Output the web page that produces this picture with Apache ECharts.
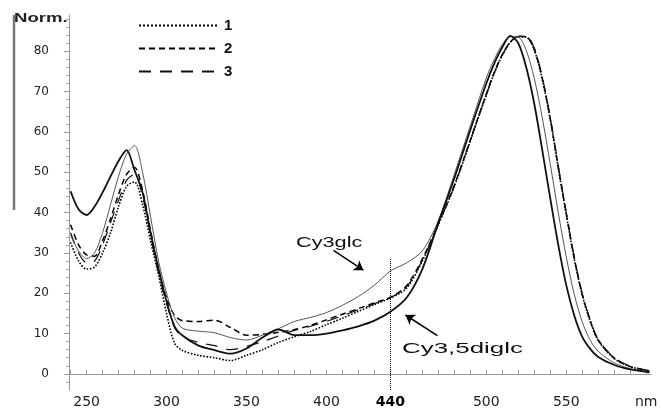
<!DOCTYPE html>
<html>
<head>
<meta charset="utf-8">
<script src="https://cdn.jsdelivr.net/npm/echarts@6/dist/echarts.min.js"></script>
<style>html,body{margin:0;padding:0;background:#fff}#c{width:661px;height:409px}</style>
</head>
<body>
<div id="c"></div>
<script>
// wavelengths (nm)
const wl = [240,245,250,255,260,265,270,275,280,285,290,295,300,305,310,320,330,340,350,360,370,380,390,400,410,420,430,440,450,460,470,480,490,500,505,510,515,520,525,530,535,540,545,550,555,560,565,570,580,590,602];

const s1 = [32.6,28.0,26.0,26.5,30.0,35.0,41.5,46.5,47.6,42.0,33.0,24.5,15.0,7.6,5.8,4.6,4.0,3.3,4.6,6.0,7.8,9.2,10.5,12.2,13.8,15.5,17.2,18.8,21.2,28.0,37.0,46.5,57.8,69.2,74.6,79.0,82.2,83.6,83.5,80.3,73.0,63.0,51.0,39.5,28.5,19.5,13.0,8.3,3.8,1.8,0.7];
const s2 = [37.0,32.0,29.5,29.2,33.0,38.5,44.5,49.5,51.2,45.5,35.5,26.0,18.8,14.5,13.2,13.0,13.3,11.5,9.6,9.8,10.3,11.0,12.0,13.4,14.8,16.2,17.6,19.0,21.8,28.5,37.2,46.8,58.0,69.4,74.8,79.2,82.3,83.7,83.6,80.5,73.3,63.3,51.3,39.8,28.8,19.7,13.2,8.4,3.9,1.8,0.7];
const s3 = [35.0,30.0,27.6,28.0,32.0,37.5,43.0,48.0,49.5,44.0,34.5,25.0,17.5,11.5,9.2,7.8,7.0,6.0,6.8,8.0,9.4,10.8,11.8,13.0,14.4,15.9,17.4,18.9,21.5,28.2,37.1,46.6,57.9,69.3,74.7,79.1,82.2,83.7,83.7,80.8,73.6,63.6,51.6,40.0,29.0,19.9,13.4,8.5,4.0,1.9,0.8];
const cy3glc = [34.3,30.5,28.6,30.0,35.0,42.0,49.0,54.5,56.6,50.0,39.0,28.0,20.0,14.0,11.3,10.6,10.2,9.0,8.4,9.6,11.2,13.0,14.0,15.2,17.0,19.2,22.0,25.5,27.5,30.5,38.0,49.5,61.5,73.4,78.0,81.7,83.6,83.5,80.2,73.3,63.5,52.0,40.0,29.0,19.7,12.9,8.3,5.6,2.7,1.3,0.5];
const cy35diglc = [45.3,40.8,39.4,41.5,45.0,49.0,52.8,55.5,50.5,45.0,35.0,26.0,18.0,11.8,9.5,7.0,5.9,5.0,6.3,9.0,11.0,9.6,9.6,10.0,10.8,11.8,13.2,15.4,18.8,26.0,37.5,48.5,60.5,72.0,77.0,81.0,83.8,82.0,76.0,67.0,55.5,43.5,32.0,22.0,14.5,9.2,6.2,4.2,2.2,1.1,0.4];

const xLabelValues = [250,300,350,400,440,500,550,600];
const xTickValues = [240,250,260,270,280,290,300,310,320,330,340,350,360,370,380,390,400,410,420,430,440,450,460,470,480,490,500,510,520,530,540,550,560,570,580,590,600];
const yLabelValues = [0,10,20,30,40,50,60,70,80];
const yMinorValues = [-2,2,4,6,8,12,14,16,18,22,24,26,28,32,34,36,38,42,44,46,48,52,54,56,58,62,64,66,68,72,74,76,78,82,84,86,88];

const pair = a => wl.map((x,i)=>[x,a[i]]);
const FONT = 'DejaVu Sans';

const chart = echarts.init(document.getElementById('c'), null, {renderer:'canvas'});
chart.setOption({
  animation:false,
  backgroundColor:'#fff',
  grid:{left:69,right:10,top:15,bottom:16},
  legend:{
    data:['1','2','3'], orient:'vertical', left:133, top:13,
    itemWidth:80, itemHeight:14, itemGap:8,
    itemStyle:{color:'rgba(0,0,0,0)',borderColor:'rgba(0,0,0,0)',borderWidth:0,opacity:0},
    textStyle:{fontFamily:'Liberation Sans',fontSize:15,fontWeight:'bold',color:'#111'}
  },
  xAxis:{
    type:'value', min:239, max:603,
    axisLine:{lineStyle:{color:'#999',width:1}},
    axisTick:{inside:true,length:4,customValues:xTickValues,lineStyle:{color:'#999'}},
    splitLine:{show:false},
    axisLabel:{
      customValues:xLabelValues, margin:5,
      fontFamily:FONT, fontSize:14, color:'#222',
      formatter:v=> v===600?'nm':(v===440?'{b|440}':String(v)),
      rich:{b:{fontFamily:FONT,fontSize:14,fontWeight:'bold',color:'#000'}}
    }
  },
  yAxis:[{
    type:'value', min:-4, max:89,
    axisLine:{show:true,lineStyle:{color:'#999',width:1}},
    axisTick:{show:true,length:5,customValues:yLabelValues,lineStyle:{color:'#999'}},
    splitLine:{show:false},
    axisLabel:{customValues:yLabelValues, margin:20, fontFamily:FONT, fontSize:12, color:'#222'}
  },{
    type:'value', min:-4, max:89, position:'left',
    axisLine:{show:false},
    axisTick:{show:true,length:3,customValues:yMinorValues,lineStyle:{color:'#aaa'}},
    splitLine:{show:false},
    axisLabel:{show:false}
  }],
  series:[
    {name:'1',type:'line',data:pair(s1),smooth:0.3,showSymbol:false,symbol:'none',
     lineStyle:{color:'#000',width:1.6,type:'dotted'},itemStyle:{color:'#000'}},
    {name:'2',type:'line',data:pair(s2),smooth:0.3,showSymbol:false,symbol:'none',
     lineStyle:{color:'#000',width:1.5,type:[6,4]},itemStyle:{color:'#000'}},
    {name:'3',type:'line',data:pair(s3),smooth:0.3,showSymbol:false,symbol:'none',
     lineStyle:{color:'#111',width:1.2,type:[12,9]},itemStyle:{color:'#111'}},
    {name:'Cy3glc',type:'line',data:pair(cy3glc),smooth:0.3,showSymbol:false,symbol:'none',
     lineStyle:{color:'#555',width:1},itemStyle:{color:'#555'}},
    {name:'Cy3,5diglc',type:'line',data:pair(cy35diglc),smooth:0.3,showSymbol:false,symbol:'none',
     lineStyle:{color:'#111',width:1.8},itemStyle:{color:'#111'}},
    {name:'annot',type:'line',data:[],
     markLine:{silent:true,animation:false,label:{show:false},
       data:[
        [{coord:[440,-4],symbol:'none',lineStyle:{type:'dotted',color:'#000',width:1}},{coord:[440,28.7],symbol:'none'}],
        [{coord:[404.4,30.6],symbol:'none',lineStyle:{type:'solid',color:'#000',width:1.5}},{coord:[423.1,25.7],symbol:'arrow',symbolSize:9}],
        [{coord:[469.4,9.5],symbol:'none',lineStyle:{type:'solid',color:'#000',width:1.5}},{coord:[449.4,14.6],symbol:'arrow',symbolSize:9}]
       ]}
    }
  ],
  graphic:[
    {type:'line',shape:{x1:14,y1:15,x2:14,y2:210},style:{stroke:'#777',lineWidth:2.5}},
    {type:'text',x:14,y:19,scaleX:1.55,style:{text:'Norm.',font:'bold 12px "Liberation Sans"',fill:'#222',textVerticalAlign:'middle'}},
    {type:'text',x:296,y:243,scaleX:1.55,style:{text:'Cy3glc',font:'14px "Liberation Sans"',fill:'#111',textVerticalAlign:'middle'}},
    {type:'text',x:402,y:349,scaleX:1.85,style:{text:'Cy3,5diglc',font:'14px "Liberation Sans"',fill:'#111',textVerticalAlign:'middle'}}
  ]
});
</script>
</body>
</html>
